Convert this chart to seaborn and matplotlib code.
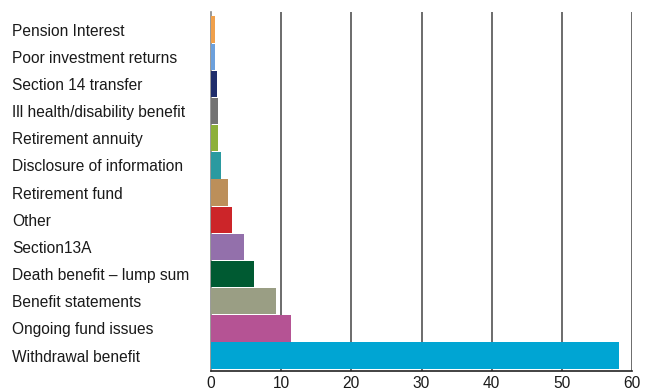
import matplotlib
matplotlib.use("Agg")
import matplotlib.pyplot as plt
import seaborn as sns
import pandas as pd

categories = ["Pension Interest", "Poor investment returns", "Section 14 transfer",
              "Ill health/disability benefit", "Retirement annuity", "Disclosure of information",
              "Retirement fund", "Other", "Section13A", "Death benefit \u2013 lump sum",
              "Benefit statements", "Ongoing fund issues", "Withdrawal benefit"]
values = [0.6, 0.6, 0.9, 1.0, 1.0, 1.4, 2.4, 3.0, 4.7, 6.1, 9.3, 11.4, 58.1]
colors = ["#F0A04B", "#6CA0DC", "#1F2D6B", "#737373", "#8DB03A", "#2A9AA0", "#BC8F5A",
          "#CC2529", "#9370AB", "#005A32", "#9A9E84", "#B55394", "#00A5D3"]
xticks = [0, 10, 20, 30, 40, 50, 60]

sns.set_style("white")
plt.rcParams['font.family'] = ['Liberation Sans', 'DejaVu Sans']

df = pd.DataFrame({"category": categories, "value": values})

fig = plt.figure(figsize=(6.55, 3.88), dpi=100)
ax = fig.add_axes([211/655, 1-371/388, (632-211)/655, (371-12)/388])

sns.barplot(data=df, x="value", y="category", hue="category", palette=colors,
            order=categories, orient="h", width=0.97, legend=False, ax=ax,
            saturation=1, zorder=3, edgecolor="none", linewidth=0)

ax.set_xlim(0, 60)
ax.set_ylim(12.57, -0.645)
ax.set_xticks(xticks)
ax.set_xticklabels([str(t) for t in xticks])
for t in xticks[1:]:
    ax.axvline(t, color="#444444", lw=1.1, zorder=1)
ax.set_xlabel("")
ax.set_ylabel("")
for s in ["top", "right"]:
    ax.spines[s].set_visible(False)
ax.spines["left"].set_color("#888888")
ax.spines["left"].set_linewidth(1.2)
ax.spines["bottom"].set_color("#222222")
ax.spines["bottom"].set_linewidth(1.2)
ax.tick_params(axis="y", length=0, labelsize=11.2, labelcolor="#1a1a1a")
ax.tick_params(axis="x", length=0, pad=3.5, labelsize=11.2, labelcolor="#1a1a1a")
for lab in ax.get_yticklabels():
    lab.set_horizontalalignment("left")
ax.yaxis.set_tick_params(pad=(211 - 12) * 72 / 100)

fig.savefig("out.png", dpi=100)
